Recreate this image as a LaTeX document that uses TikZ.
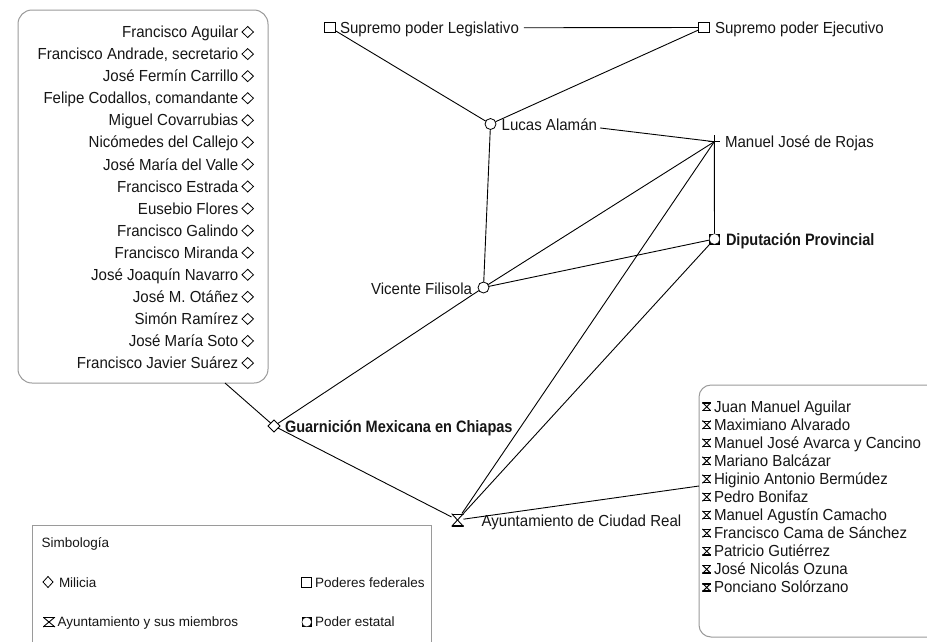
\documentclass[tikz,border=0pt]{standalone}
\usepackage{fontspec}
\setmainfont{Liberation Sans}
\newfontfamily\bcond[FakeStretch=0.88]{Liberation Sans}
\newfontfamily\lcond[FakeStretch=0.94]{Liberation Sans}
\usetikzlibrary{shapes.geometric,calc}
\definecolor{boxgray}{HTML}{9A9A9A}
\definecolor{ink}{HTML}{161616}
\begin{document}
\begin{tikzpicture}[x=1pt,y=-1pt,
  every node/.style={inner sep=0pt, outer sep=0pt},
  conn/.style={line width=0.9pt, draw=black},
  lbl/.style={font=\lcond\fontsize{16}{19}\selectfont, text=ink, text height=11.5pt, text depth=0pt},
  blbl/.style={font=\bcond\bfseries\fontsize{16.5}{19}\selectfont, text=ink, text height=12pt, text depth=0pt},
  leglbl/.style={font=\fontsize{13.5}{16}\selectfont, text=ink},
  sq/.style={rectangle, draw, line width=0.8pt, fill=white, minimum size=#1},
  circ/.style={circle, draw, line width=0.8pt, fill=white, minimum size=11pt},
  dia/.style 2 args={diamond, draw, line width=0.8pt, fill=white, minimum width=#1, minimum height=#2},
  hg/.style 2 args={rectangle, minimum width=#1, minimum height=#2, path picture={
    \draw[line width=1.4pt] ([yshift=-0.7pt]path picture bounding box.north west) -- ([yshift=-0.7pt]path picture bounding box.north east);
    \draw[line width=1.4pt] ([yshift=0.7pt]path picture bounding box.south west) -- ([yshift=0.7pt]path picture bounding box.south east);
    \draw[line width=0.9pt] (path picture bounding box.north west) -- (path picture bounding box.south east);
    \draw[line width=0.9pt] (path picture bounding box.north east) -- (path picture bounding box.south west);}},
  dipsym/.style 2 args={rectangle, fill=black, minimum size=#1, path picture={
    \filldraw[fill=white, draw=black, line width=0.4pt] (path picture bounding box.center) circle (#2);}},
  rojsym/.style={rectangle, minimum width=12pt, minimum height=13pt, path picture={
    \draw[line width=0.9pt] (path picture bounding box.west) -- (path picture bounding box.east);
    \draw[line width=0.9pt] (path picture bounding box.north) -- (path picture bounding box.south);}},
  roundbox/.style={draw=boxgray, line width=1pt, rounded corners=14pt},
  plainbox/.style={draw=boxgray, line width=1pt}
]
\useasboundingbox (0,0) rectangle (927,641);
\clip (0,0) rectangle (927,641);
\fill[white] (0,0) rectangle (927,641);

% ---- Milicia box (left)
\node[roundbox, minimum width=250pt, minimum height=373pt] (milbox) at (143,196.5) {};
\foreach \name [count=\i from 0] in {Francisco Aguilar,{Francisco Andrade, secretario},José Fermín Carrillo,{Felipe Codallos, comandante},Miguel Covarrubias,Nicómedes del Callejo,José María del Valle,Francisco Estrada,Eusebio Flores,Francisco Galindo,Francisco Miranda,José Joaquín Navarro,José M. Otáñez,Simón Ramírez,José María Soto,Francisco Javier Suárez}{
  \node[lbl, anchor=base east] (mil\i) at (238.3,{37.6+22.07*\i}) {\name};
  \node[dia={11.5pt}{11pt}] (mild\i) at (247.7,{32+22.07*\i}) {};
}

% ---- Ayuntamiento members box (right)
\node[roundbox, rounded corners=12pt, minimum width=320pt, minimum height=252pt, anchor=north west] (munbox) at (699,385) {};
\foreach \name [count=\i from 0] in {Juan Manuel Aguilar,Maximiano Alvarado,Manuel José Avarca y Cancino,Mariano Balcázar,Higinio Antonio Bermúdez,Pedro Bonifaz,Manuel Agustín Camacho,Francisco Cama de Sánchez,Patricio Gutiérrez,José Nicolás Ozuna,Ponciano Solórzano}{
  \node[hg={8.5pt}{8.5pt}] (muns\i) at (706.7,{406.7+18.07*\i}) {};
  \node[lbl, anchor=base west] (mun\i) at (714,{412.2+18.07*\i}) {\name};
}

% ---- Legend
\node[plainbox, minimum width=399.4pt, minimum height=200pt, anchor=north west] (legbox) at (32.3,525) {};
\node[leglbl, anchor=base west] (simb) at (41.7,547.3) {Simbología};
\node[dia={10pt}{11pt}] (lmil) at (48,582) {};
\node[leglbl, anchor=base west] (lmilT) at (59,587.3) {Milicia};
\node[sq=10pt] (lfed) at (306.7,582.3) {};
\node[leglbl, anchor=base west] (lfedT) at (315,587.3) {Poderes federales};
\node[hg={12pt}{10pt}] (layu) at (49,622) {};
\node[leglbl, anchor=base west] (layuT) at (57.5,626.7) {Ayuntamiento y sus miembros};
\node[dipsym={10pt}{4.8pt}] (ldip) at (306.7,622) {};
\node[leglbl, anchor=base west] (ldipT) at (315,626.7) {Poder estatal};

% ---- Main actors
\node[sq=10.5pt] (leg) at (330,27.5) {};
\node[lbl, anchor=base west] (legT) at (340,33.5) {Supremo poder Legislativo};
\node[sq=10.5pt] (eje) at (704,27.5) {};
\node[lbl, anchor=base west] (ejeT) at (715,33.5) {Supremo poder Ejecutivo};
\node[circ] (lucas) at (490.5,124) {};
\node[lbl, anchor=base west] (lucT) at (501.7,130.7) {Lucas Alamán};
\node[rojsym] (rojas) at (714.3,141.7) {};
\node[lbl, anchor=base west] (rojT) at (725,147.7) {Manuel José de Rojas};
\node[dipsym={11pt}{5.3pt}] (dip) at (714.5,239) {};
\node[blbl, anchor=base west] (dipT) at (726,245) {Diputación Provincial};
\node[circ] (vic) at (483.5,287.5) {};
\node[lbl, anchor=base east] (vicT) at (472,294.2) {Vicente Filisola};
\node[dia={12pt}{12pt}] (guar) at (274,426) {};
\node[blbl, anchor=base west] (guarT) at (285,432.5) {Guarnición Mexicana en Chiapas};
\node[hg={12pt}{13pt}] (ayu) at (457.5,520) {};
\node[lbl, anchor=base west] (ayuT) at (481.7,526.7) {Ayuntamiento de Ciudad Real};

% ---- Connectors
\draw[conn] ($(legT.east)+(5,0)$) -- (eje);
\draw[conn] (leg) -- (lucas);
\draw[conn] (eje) -- (lucas);
\draw[conn] ($(lucT.east)+(3,3)$) -- (rojas.center);
\draw[conn] (lucas) -- (vic);
\draw[conn] (vic) -- (rojas.center);
\draw[conn] (vic) -- (dip);
\draw[conn] (rojas.center) -- (dip);
\draw[conn] (vic) -- (guar);
\draw[conn] ([xshift=-43pt]milbox.south east) -- (guar);
\draw[conn] (guar) -- (ayu);
\draw[conn] (ayu) -- (rojas.center);
\draw[conn] (ayu) -- (dip);
\draw[conn] (ayu) -- ([yshift=25pt]munbox.west);
\end{tikzpicture}
\end{document}
